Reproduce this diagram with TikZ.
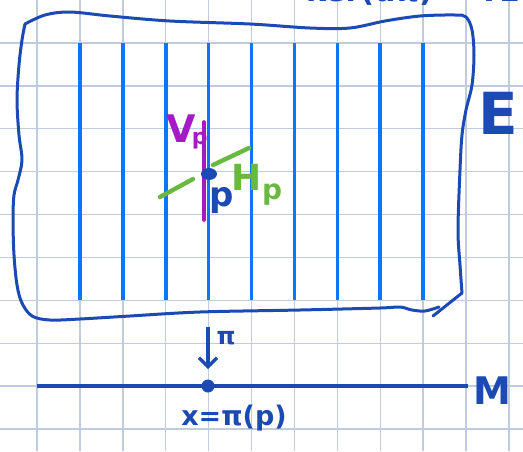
\documentclass[tikz,border=0pt]{standalone}
\usepackage{fontspec}
\setmainfont{DejaVu Sans}
\usetikzlibrary{arrows.meta,shapes.geometric}
\definecolor{gridc}{RGB}{192,203,223}
\definecolor{ink}{RGB}{26,74,178}
\definecolor{fib}{RGB}{12,118,250}
\definecolor{vert}{RGB}{165,25,200}
\definecolor{hor}{RGB}{105,185,65}
\tikzset{
  gridline/.style={draw=gridc, line width=1.4pt},
  fibre/.style={draw=fib, line width=3.6pt},
  outline/.style={draw=ink, line width=3pt, line cap=round, line join=round},
  lbl/.style={inner sep=0pt, outer sep=0pt},
}
\begin{document}
\begin{tikzpicture}[x=1pt,y=-1pt]
\useasboundingbox (0,0) rectangle (523,451);
\clip (0,0) rectangle (523,451);
\fill[white] (0,0) rectangle (523,451);
% grid paper
\foreach \k in {0,...,11} { \draw[gridline] ({37+42.9*\k},0) -- ({37+42.9*\k},451); }
\foreach \k in {1,...,10} { \draw[gridline] (0,{42.9*\k}) -- (523,{42.9*\k}); }
% top text, cut off by the page edge
\node[lbl, anchor=base west, text=ink, font=\bfseries\fontsize{30}{30}\selectfont] (toptext) at (306,1) {ker(dπ) = TE};
% fibres
\foreach \k in {1,...,9} { \draw[fibre] ({37+42.9*\k},43) -- ({37+42.9*\k},300); }
% outline of E
\draw[outline] plot[smooth, tension=0.55] coordinates {
  (25,24) (45,15) (70,12) (110,16) (170,21) (250,24) (310,28) (350,28) (385,21) (420,16) (455,15) (466,17) (472,30) (474,55) (472,85) (466,110) (462,135) (460,170) (458,230) (460,265) (462,293)};
\draw[outline] (462,293) -- (433,316);
\draw[outline] plot[smooth, tension=0.55] coordinates {
  (439,307) (425,311) (412,310) (400,307) (380,308) (300,310) (200,312) (130,316) (80,319) (50,320) (32,316) (22,303) (17,285) (14,255) (13,220) (14,195) (18,180) (22,160) (19,135) (17,100) (19,65) (22,40) (25,24)};
% base M
\coordinate (mleft) at (37,386);
\coordinate (mright) at (468,386);
\draw[draw=ink, line width=4.2pt] (mleft) -- (mright);
\node[lbl, text=ink, font=\bfseries\fontsize{38}{38}\selectfont] (M) at (492,391) {M};
\node[lbl, text=ink, font=\bfseries\fontsize{58}{58}\selectfont] (E) at (498,113) {E};
% vertical and horizontal subspaces
\coordinate (vtop) at (204,122);
\coordinate (vbot) at (204,220);
\draw[draw=vert, line width=3.6pt, line cap=round] (vtop) -- (vbot);
\coordinate (hl1) at (160,197);
\coordinate (hl2) at (193,179);
\coordinate (hr1) at (213,165);
\coordinate (hr2) at (249,148);
\draw[draw=hor, line width=4.4pt, line cap=round] (hl1) -- (hl2);
\draw[draw=hor, line width=4.4pt, line cap=round] (hr1) -- (hr2);
\node[ellipse, fill=ink, minimum width=16pt, minimum height=12pt, inner sep=0pt] (p) at (209,174) {};
\node[lbl, text=vert, font=\bfseries\fontsize{38}{38}\selectfont] (Vp) at (187,132) {V\kern-4pt\raisebox{-2pt}{\fontsize{22}{22}\selectfont p}};
\node[lbl, text=hor, font=\bfseries\fontsize{36}{36}\selectfont] (Hp) at (257,185) {H\raisebox{-9pt}{\fontsize{28}{28}\selectfont p}};
\node[lbl, text=ink, font=\bfseries\fontsize{34}{34}\selectfont] (plabel) at (222,201) {p};
% projection
\coordinate (atop) at (208,327);
\coordinate (atip) at (208,369);
\draw[draw=ink, line width=3.4pt, -{Straight Barb[length=9pt,width=18pt,line width=3.2pt]}] (atop) -- (atip);
\node[lbl, text=ink, font=\bfseries\fontsize{24}{24}\selectfont] (pi) at (226,338) {π};
\node[circle, fill=ink, minimum size=13pt, inner sep=0pt] (x) at (208,386) {};
\node[lbl, text=ink, font=\bfseries\fontsize{27}{27}\selectfont] (xlabel) at (234,418) {x=π(p)};
\end{tikzpicture}
\end{document}
